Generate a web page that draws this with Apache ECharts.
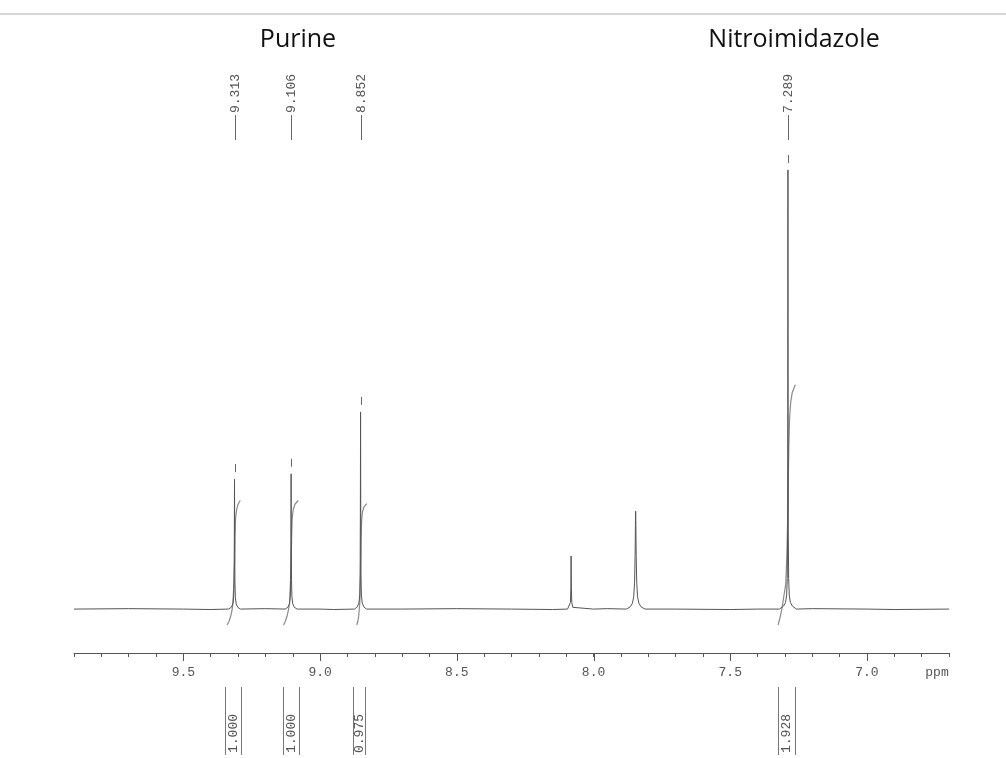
<!DOCTYPE html>
<html><head><meta charset="utf-8">
<script src="https://cdn.jsdelivr.net/npm/echarts@6/dist/echarts.min.js"></script>
<style>html,body{margin:0;padding:0;background:#fff}#c{width:1006px;height:758px}</style>
</head><body><div id="c"></div>
<script>
// ---- data (ppm, intensity) ----
const groupTitles = ['Purine', 'Nitroimidazole'];
const xTickValues = [7.0, 7.5, 8.0, 8.5, 9.0, 9.5];
const axisUnit = 'ppm';

const baseline = [[9.9,0],[9.7,0.1],[9.5,0],[9.4,-0.1],[9.2,0.1],[9.0,0],[8.95,-0.1],[8.7,0],[8.5,0.1],[8.3,0],[8.15,-0.1],[8.0,0],[7.95,0.1],[7.7,0],[7.5,-0.1],[7.4,0],[7.2,0.1],[7.0,0],[6.9,-0.1],[6.7,0]];
const peak9313 = [[9.335,0],[9.325,0.4],[9.319,1.2],[9.316,2.8],[9.3145,6.5],[9.3137,16],[9.313,29.6],[9.3123,16],[9.3115,6.5],[9.310,2.8],[9.307,1.2],[9.301,0.4],[9.291,0]];
const peak9106 = [[9.128,0],[9.118,0.4],[9.112,1.2],[9.109,2.8],[9.1075,6.5],[9.1067,16],[9.106,30.8],[9.1053,16],[9.1045,6.5],[9.103,2.8],[9.100,1.2],[9.094,0.4],[9.084,0]];
const peak8852 = [[8.874,0],[8.864,0.5],[8.858,1.4],[8.855,3.2],[8.8535,8],[8.8527,22],[8.852,44.9],[8.8513,22],[8.8505,8],[8.849,3.2],[8.846,1.4],[8.840,0.5],[8.830,0]];
const peak8082 = [[8.095,0],[8.088,0.4],[8.0845,1.5],[8.0828,5],[8.082,12.1],[8.0812,5],[8.0795,1.5],[8.076,0.4],[8.069,0]];
const peak7846 = [[7.880,0],[7.866,0.5],[7.858,1.3],[7.853,2.8],[7.850,6],[7.848,12],[7.8468,19],[7.846,22.3],[7.8452,19],[7.844,12],[7.842,6],[7.839,2.8],[7.834,1.3],[7.826,0.5],[7.812,0]];
const peak7289 = [[7.320,0],[7.305,0.7],[7.298,1.5],[7.294,3],[7.2915,7],[7.2902,18],[7.2895,45],[7.289,100],[7.2885,45],[7.2878,18],[7.2865,7],[7.284,3],[7.280,1.5],[7.273,0.7],[7.258,0]];

// labelled peaks: position, top height
const peakLabels = ['9.313', '9.106', '8.852', '7.289'];
const peakLabelPpm = [9.313, 9.106, 8.852, 7.289];
const peakLabelTop = [29.6, 30.8, 44.9, 100];

// integrals: labels, ranges and curves (ppm, cumulative value)
const integralLabels = ['1.000', '1.000', '0.975', '1.928'];
const integralFrom = [9.3475, 9.136, 8.8805, 7.324];
const integralTo   = [9.289, 9.077, 8.8356, 7.262];
const int9313 = [[9.340,0],[9.333,0.03],[9.327,0.07],[9.322,0.12],[9.319,0.17],[9.316,0.30],[9.313,0.50],[9.311,0.72],[9.309,0.86],[9.305,0.93],[9.300,0.97],[9.292,1.00]];
const int9106 = [[9.134,0],[9.127,0.03],[9.121,0.07],[9.116,0.12],[9.112,0.17],[9.109,0.30],[9.106,0.50],[9.104,0.72],[9.102,0.86],[9.098,0.93],[9.092,0.97],[9.080,1.00]];
const int8852 = [[8.866,0],[8.862,0.03],[8.859,0.07],[8.857,0.12],[8.855,0.17],[8.853,0.30],[8.852,0.48],[8.850,0.70],[8.848,0.84],[8.845,0.91],[8.839,0.95],[8.829,0.975]];
const int7289 = [[7.325,0],[7.318,0.06],[7.311,0.13],[7.304,0.23],[7.297,0.33],[7.293,0.55],[7.289,0.96],[7.286,1.40],[7.283,1.66],[7.279,1.79],[7.273,1.87],[7.262,1.93]];

// ---- build ----
const spectrum = [].concat(baseline, peak9313, peak9106, peak8852, peak8082, peak7846, peak7289)
  .sort((a, b) => b[0] - a[0]);
const MONO = '"Liberation Mono", "DejaVu Sans Mono", monospace';
const chart = echarts.init(document.getElementById('c'), null, {renderer: 'canvas'});

function intSeries(d) {
  return {type: 'line', xAxisIndex: 0, yAxisIndex: 1, data: d, showSymbol: false, symbol: 'none',
    lineStyle: {color: '#8a8a8a', width: 1.2}, silent: true, z: 3};
}

chart.setOption({
  animation: false,
  backgroundColor: '#fff',
  grid: {left: 74, width: 875, top: 126, height: 527},
  xAxis: [
    {type: 'value', min: 6.7, max: 9.9, inverse: true, interval: 0.1, position: 'bottom',
     axisLine: {onZero: false, lineStyle: {color: '#555', width: 1}},
     axisTick: {length: 4, lineStyle: {color: '#555'}},
     axisLabel: {show: false}, splitLine: {show: false}},
    {type: 'value', min: 6.7, max: 9.9, inverse: true, position: 'bottom',
     axisLine: {show: false, onZero: false},
     axisTick: {show: false},
     axisLabel: {show: true, customValues: xTickValues, formatter: v => Number(v).toFixed(1),
       margin: 13, fontFamily: MONO, fontSize: 13, color: '#555'},
     splitLine: {show: false}}
  ],
  yAxis: [
    {type: 'value', min: -10, max: 110, show: false},
    {type: 'value', min: -0.2249, max: 4.008, show: false}
  ],
  graphic: [
    {type: 'line', shape: {x1: 0, y1: 14, x2: 1006, y2: 14}, style: {stroke: '#c8c8c8', lineWidth: 1.5}},
    {type: 'text', x: 298, y: 40, style: {text: groupTitles[0], font: '25px "Open Sans"', fill: '#111', align: 'center', verticalAlign: 'middle'}},
    {type: 'text', x: 794, y: 40, style: {text: groupTitles[1], font: '25px "Open Sans"', fill: '#111', align: 'center', verticalAlign: 'middle'}},
    {type: 'text', x: 937, y: 673, style: {text: axisUnit, font: '13px ' + MONO, fill: '#555', align: 'center', verticalAlign: 'middle'}}
  ],
  series: [
    {type: 'line', xAxisIndex: 0, yAxisIndex: 0, data: spectrum, showSymbol: false, symbol: 'none',
     lineStyle: {color: '#555', width: 1}, silent: true, z: 4},
    intSeries(int9313), intSeries(int9106), intSeries(int8852), intSeries(int7289),
    // major ticks (longer) at the labelled ppm values
    {type: 'custom', xAxisIndex: 0, yAxisIndex: 0, clip: false, silent: true, z: 5,
     data: xTickValues.map(v => [v, -10]),
     renderItem: function (params, api) {
       const pt = api.coord([api.value(0), api.value(1)]);
       const x = Math.round(pt[0]) + 0.5;
       return {type: 'line', shape: {x1: x, y1: pt[1], x2: x, y2: pt[1] + 8}, style: {stroke: '#555', lineWidth: 1}};
     }},
    {type: 'custom', xAxisIndex: 0, yAxisIndex: 0, clip: false, silent: true, z: 5,
     data: peakLabelPpm.map((p, i) => [p, peakLabelTop[i]]),
     renderItem: function (params, api) {
       const pt = api.coord([api.value(0), api.value(1)]);
       const x = Math.round(pt[0]) + 0.5;
       return {type: 'group', children: [
         {type: 'line', shape: {x1: x, y1: pt[1] - 15, x2: x, y2: pt[1] - 7}, style: {stroke: '#666', lineWidth: 1}},
         {type: 'line', shape: {x1: x, y1: 115, x2: x, y2: 140}, style: {stroke: '#666', lineWidth: 1}},
         {type: 'text', x: x, y: 113, rotation: Math.PI / 2,
          style: {text: peakLabels[params.dataIndex], font: '13px ' + MONO, fill: '#555', align: 'left', verticalAlign: 'middle'}}
       ]};
     }},
    {type: 'custom', xAxisIndex: 0, yAxisIndex: 0, clip: false, silent: true, z: 5,
     data: integralFrom.map((f, i) => [f, integralTo[i]]),
     renderItem: function (params, api) {
       const x1 = Math.round(api.coord([api.value(0), 0])[0]) + 0.5;
       const x2 = Math.round(api.coord([api.value(1), 0])[0]) + 0.5;
       const xc = (x1 + x2) / 2;
       return {type: 'group', children: [
         {type: 'line', shape: {x1: x1, y1: 687, x2: x1, y2: 755}, style: {stroke: '#777', lineWidth: 1}},
         {type: 'line', shape: {x1: x2, y1: 687, x2: x2, y2: 755}, style: {stroke: '#777', lineWidth: 1}},
         {type: 'text', x: xc, y: 753, rotation: Math.PI / 2,
          style: {text: integralLabels[params.dataIndex], font: '13px ' + MONO, fill: '#555', align: 'left', verticalAlign: 'middle'}}
       ]};
     }}
  ]
});
</script>
</body></html>
